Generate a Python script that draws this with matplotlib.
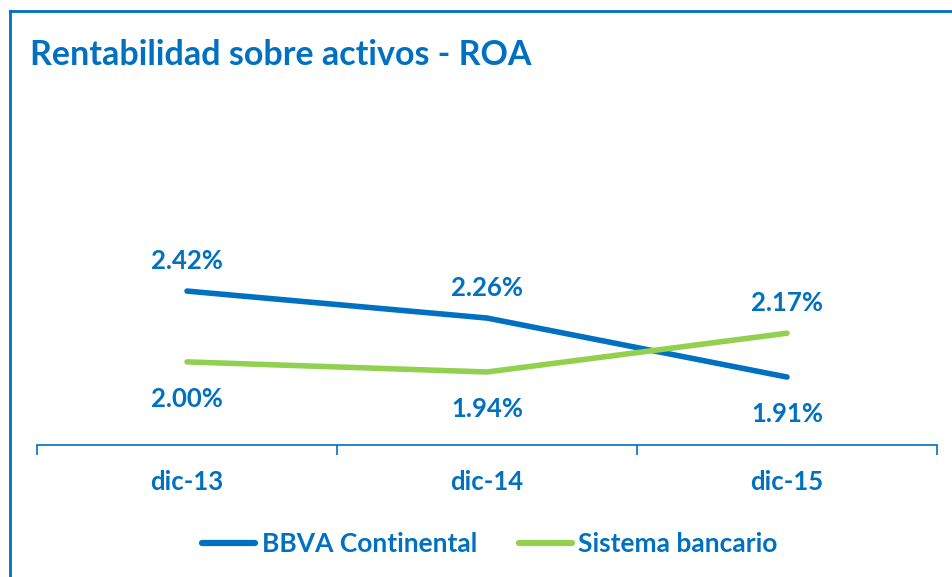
import matplotlib
matplotlib.use("Agg")
import matplotlib.pyplot as plt
from matplotlib.lines import Line2D

# data
periods = ["dic-13", "dic-14", "dic-15"]
bbva = [2.42, 2.26, 1.91]
sistema = [2.00, 1.94, 2.17]
series_names = ["BBVA Continental", "Sistema bancario"]
title = "Rentabilidad sobre activos - ROA"

BLUE = "#0070C0"
GREEN = "#92D050"
FONT = ["Lato", "DejaVu Sans"]

W, H = 953, 577
fig = plt.figure(figsize=(W / 100, H / 100), dpi=100)
plt.rcParams["font.family"] = FONT

# plot area: x from 37 to 937 px, y axis line at 445 px
ax = fig.add_axes([37 / W, 1 - 445 / H, 900 / W, (445 - 100) / H])
x = list(range(len(periods)))
ax.plot(x, bbva, color=BLUE, lw=4, solid_capstyle="round")
ax.plot(x, sistema, color=GREEN, lw=4, solid_capstyle="round")
ax.set_xlim(-0.5, len(periods) - 0.5)
# 168.6 px per 1.00 point
ax.set_ylim(1.507, 1.507 + (445 - 100) / 168.6)

for i in x:
    hi, lo = max(bbva[i], sistema[i]), min(bbva[i], sistema[i])
    ax.annotate(f"{hi:.2f}%", (i, hi), xytext=(0, 30), textcoords="offset pixels",
                ha="center", va="center", color=BLUE, fontsize=18.5, fontweight="bold")
    ax.annotate(f"{lo:.2f}%", (i, lo), xytext=(0, -37), textcoords="offset pixels",
                ha="center", va="center", color=BLUE, fontsize=18.5, fontweight="bold")

for s in ["top", "right", "left"]:
    ax.spines[s].set_visible(False)
ax.spines["bottom"].set_color(BLUE)
ax.spines["bottom"].set_linewidth(1.2)
ax.set_yticks([])
ax.set_xticks([-0.5 + k for k in range(len(periods) + 1)], minor=False)
ax.set_xticklabels([])
ax.tick_params(axis="x", which="major", length=7, width=1.2, color=BLUE)
ax.set_xticks(x, minor=True)
ax.set_xticklabels(periods, minor=True)
ax.tick_params(axis="x", which="minor", length=0, pad=18, labelsize=18.5,
               labelcolor=BLUE)
for lab in ax.get_xticklabels(minor=True):
    lab.set_fontweight("bold")

fig.text(30 / W, 1 - 55 / H, title, color=BLUE, fontsize=24.5, fontweight="bold",
         ha="left", va="center")

handles = [Line2D([], [], color=BLUE, lw=4.5, solid_capstyle="round"),
           Line2D([], [], color=GREEN, lw=4.5, solid_capstyle="round")]
leg = fig.legend(handles, series_names, loc="center", ncol=2,
                 bbox_to_anchor=(490 / W, 1 - 544 / H), frameon=False,
                 handlelength=2.0, handletextpad=0.25, columnspacing=1.6,
                 prop={"family": FONT, "weight": "bold", "size": 19})
for t in leg.get_texts():
    t.set_color(BLUE)

# frame border (left and top edges visible)
fig.add_artist(Line2D([10 / W, 10 / W], [0, 1 - 11 / H], transform=fig.transFigure,
                      color=BLUE, lw=2))
fig.add_artist(Line2D([10 / W, 1], [1 - 11 / H, 1 - 11 / H], transform=fig.transFigure,
                      color=BLUE, lw=2))

fig.savefig("out.png", dpi=100, facecolor="white")
